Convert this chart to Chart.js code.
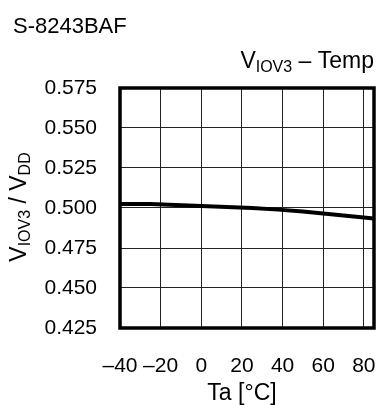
<!DOCTYPE html>
<html>
<head>
<meta charset="utf-8">
<script src="https://cdn.jsdelivr.net/npm/chart.js@4/dist/chart.umd.min.js"></script>
<style>
  html, body { margin: 0; padding: 0; background: #fff; }
</style>
</head>
<body>
<canvas id="myChart" width="377" height="405"></canvas>
<script>
// V_IOV3 / V_DD against ambient temperature

const temps = [-40, -25, 0, 25, 50, 85];
const ratio = [0.5025, 0.5025, 0.5013, 0.5000, 0.4978, 0.4935];

const xTicks = [-40, -20, 0, 20, 40, 60, 80];
const xTickLabels = ['\u201340', '\u201320', '0', '20', '40', '60', '80'];
const yTicks = [0.425, 0.450, 0.475, 0.500, 0.525, 0.550, 0.575];
const yTickLabels = ['0.425', '0.450', '0.475', '0.500', '0.525', '0.550', '0.575'];

const FONT = '"Liberation Sans", Arial, sans-serif';

// draw a run of text pieces, some of them as subscripts
function drawParts(ctx, parts, x, y, align) {
    let total = 0;
    parts.forEach(p => {
        ctx.font = p.size + 'px ' + FONT;
        p.w = ctx.measureText(p.text).width;
        total += p.w;
    });
    let cx = x;
    if (align === 'right') cx = x - total;
    if (align === 'center') cx = x - total / 2;
    ctx.textAlign = 'left';
    ctx.textBaseline = 'alphabetic';
    parts.forEach(p => {
        ctx.font = p.size + 'px ' + FONT;
        ctx.fillText(p.text, cx, y + (p.dy || 0));
        cx += p.w;
    });
}

const textPlugin = {
    id: 'texts',
    afterDatasetsDraw(chart) {
        const ctx = chart.ctx;
        const a = chart.chartArea;
        ctx.save();
        // frame around the plot
        ctx.strokeStyle = '#000';
        ctx.lineWidth = 3.5;
        ctx.strokeRect(a.left, a.top, a.right - a.left, a.bottom - a.top);

        ctx.fillStyle = '#000';
        drawParts(ctx, [{ text: 'S-8243BAF', size: 22 }], 13, 33, 'left');
        drawParts(ctx, [
            { text: 'V', size: 23 },
            { text: 'IOV3', size: 16, dy: 4 },
            { text: ' \u2013 Temp', size: 23 }
        ], 374, 68, 'right');
        drawParts(ctx, [{ text: 'Ta [\u00b0C]', size: 23 }], 242, 400, 'center');

        ctx.translate(25.5, 207);
        ctx.rotate(-Math.PI / 2);
        drawParts(ctx, [
            { text: 'V', size: 23 },
            { text: 'IOV3', size: 16, dy: 4 },
            { text: ' / V', size: 23 },
            { text: 'DD', size: 16, dy: 4 }
        ], 0, 0, 'center');
        ctx.restore();
    }
};

const ctx = document.getElementById('myChart').getContext('2d');
const myChart = new Chart(ctx, {
    type: 'line',
    data: {
        datasets: [{
            data: temps.map((t, i) => ({ x: t, y: ratio[i] })),
            borderColor: '#000',
            backgroundColor: 'transparent',
            borderWidth: 4,
            pointRadius: 0,
            tension: 0.2
        }]
    },
    options: {
        responsive: false,
        animation: false,
        layout: { padding: { top: 88, right: 3, left: 0, bottom: 0 } },
        scales: {
            x: {
                type: 'linear',
                min: -40,
                max: 85,
                afterBuildTicks: s => { s.ticks = xTicks.map(v => ({ value: v })); },
                afterFit: s => { s.height = 77; s.paddingLeft = 0; s.paddingRight = 0; },
                grid: { color: '#222', lineWidth: 1, drawTicks: false },
                border: { display: false },
                ticks: {
                    padding: 26,
                    color: '#000',
                    autoSkip: false,
                    maxRotation: 0,
                    font: { family: FONT, size: 21 },
                    callback: (v, i) => xTickLabels[i]
                }
            },
            y: {
                min: 0.425,
                max: 0.575,
                afterBuildTicks: s => { s.ticks = yTicks.map(v => ({ value: v })); },
                afterFit: s => { s.width = 120; s.paddingTop = 0; s.paddingBottom = 0; },
                grid: { color: '#222', lineWidth: 1, drawTicks: false },
                border: { display: false },
                ticks: {
                    padding: 23,
                    color: '#000',
                    font: { family: FONT, size: 21 },
                    callback: (v, i) => yTickLabels[i]
                }
            }
        },
        plugins: {
            legend: { display: false },
            tooltip: { enabled: false }
        }
    },
    plugins: [textPlugin]
});
</script>
</body>
</html>
